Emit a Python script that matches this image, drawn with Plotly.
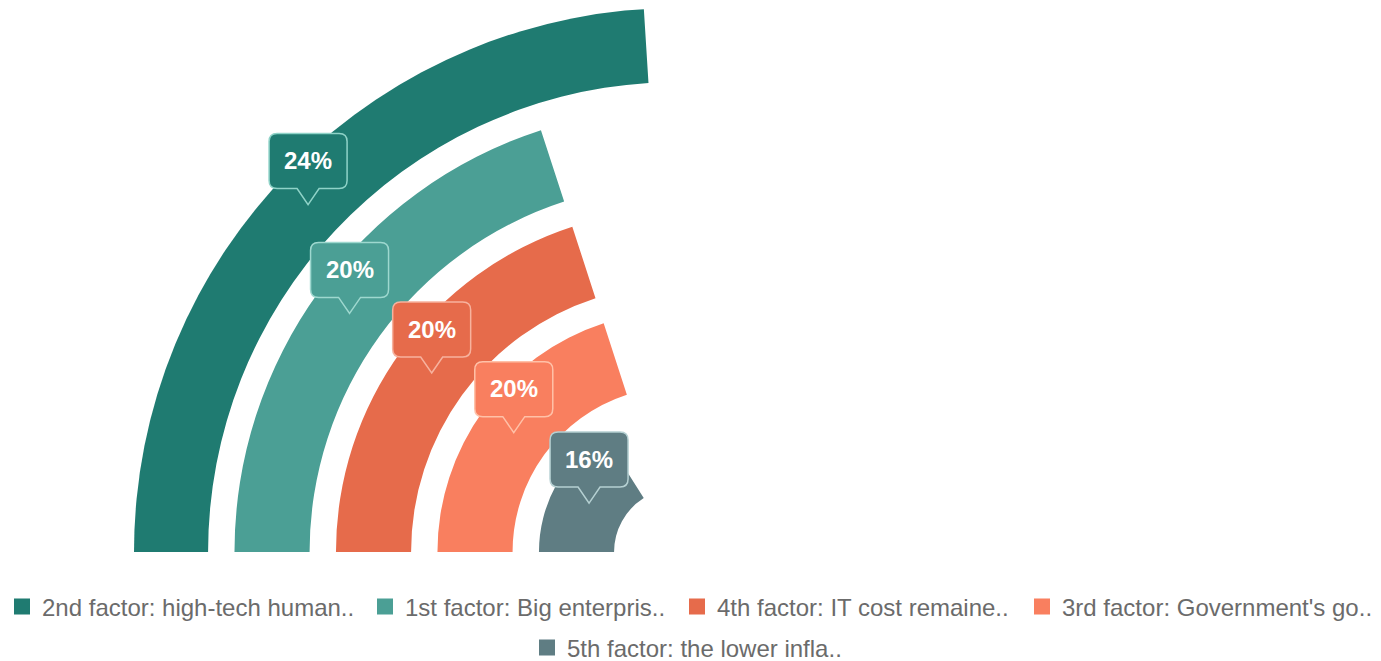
import math
import plotly.graph_objects as go

# ---- data ----
factors = [
    "2nd factor: high-tech human..",
    "1st factor: Big enterpris..",
    "4th factor: IT cost remaine..",
    "3rd factor: Government's go..",
    "5th factor: the lower infla..",
]
shares = [24, 20, 20, 20, 16]  # percent
colors = ["#1F7B71", "#4B9F95", "#E66B4B", "#F97F5F", "#5F7D83"]
border_colors = ["#8FD3C8", "#9ED8CF", "#F7B29E", "#FFC1A8", "#B5D0D2"]

# ---- layout constants ----
W, H = 1381, 661
CX, CY, RPX = 678, 552, 544          # centre and outer radius (px)
RMAX = 5.36                          # radial range
THICK = 0.74                         # ring thickness (radial units)
DEG_PER_PCT = 3.6                    # 100 % = full circle, start at 180 deg, clockwise

dom_x = [(CX - RPX) / W, CX / W]
dom_y = [1 - CY / H, 1 - (CY - RPX) / H]

# legend slots (left px of legend box, centre y px)
legend_slots = [(2, 607), (365, 607), (677, 607), (1022, 607), (527, 648)]
legend_ids = ["legend", "legend2", "legend3", "legend4", "legend5"]

fig = go.Figure()

n = len(factors)
for i, (name, v, c) in enumerate(zip(factors, shares, colors)):
    mid = n - i                      # outer ring first
    ext = v * DEG_PER_PCT
    fig.add_trace(go.Barpolar(
        r=[THICK], base=[mid - THICK / 2],
        theta=[180 - ext / 2], width=[ext],
        marker=dict(color=c, line=dict(width=0)),
        name=name, hoverinfo="skip", showlegend=False,
    ))

# legend proxies (square swatches)
for i, (name, c) in enumerate(zip(factors, colors)):
    fig.add_trace(go.Scatter(
        x=[None], y=[None], mode="markers", name=name,
        marker=dict(symbol="square", size=18, color=c),
        legend=legend_ids[i], hoverinfo="skip",
    ))

box_path = ("M 0,0 L 11,16 L 31,16 Q 39,16 39,24 L 39,63 Q 39,71 31,71 "
            "L -31,71 Q -39,71 -39,63 L -39,24 Q -39,16 -31,16 L -11,16 Z")

for i, (v, c, bc) in enumerate(zip(shares, colors, border_colors)):
    mid = n - i
    ang = math.radians(180 - v * DEG_PER_PCT / 2)
    tx, ty = mid * math.cos(ang), mid * math.sin(ang)
    fig.add_shape(type="path", xref="x", yref="y",
                  xsizemode="pixel", ysizemode="pixel",
                  xanchor=tx, yanchor=ty, path=box_path,
                  fillcolor=c, line=dict(color=bc, width=1.5), layer="above")
    fig.add_annotation(x=tx, y=ty, xref="x", yref="y", text=f"<b>{v}%</b>",
                       showarrow=False, yshift=44, xanchor="center", yanchor="middle",
                       font=dict(family="Liberation Sans, Arial", size=24, color="white"))

legend_font = dict(family="Liberation Sans, Arial", size=24, color="#6B6B6B")
legends = {}
for lid, (lx, ly) in zip(legend_ids, legend_slots):
    legends[lid] = dict(orientation="h", x=lx / W, xanchor="left",
                        y=1 - ly / H, yanchor="middle",
                        font=legend_font, itemclick=False, bgcolor="rgba(0,0,0,0)")

fig.update_layout(
    width=W, height=H,
    margin=dict(l=0, r=0, t=0, b=0, autoexpand=False),
    paper_bgcolor="white", plot_bgcolor="rgba(0,0,0,0)",
    polar=dict(
        domain=dict(x=dom_x, y=dom_y),
        sector=[90, 180], hole=0,
        bgcolor="rgba(0,0,0,0)",
        radialaxis=dict(range=[0, RMAX], visible=False, showgrid=False),
        angularaxis=dict(visible=False, showgrid=False, rotation=0, direction="counterclockwise"),
        barmode="overlay",
    ),
    xaxis=dict(domain=dom_x, range=[-RMAX, 0], visible=False, fixedrange=True),
    yaxis=dict(domain=dom_y, range=[0, RMAX], visible=False, fixedrange=True),
    showlegend=True,
    **legends,
)

fig.write_html("out.html")
